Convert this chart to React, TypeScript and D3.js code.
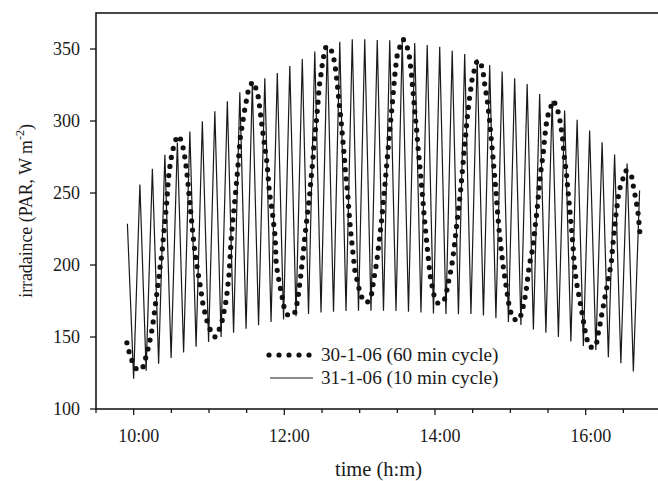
import React from "react";
import * as d3 from "d3";

// ---- data (time in minutes after 10:00, irradiance in W m-2) ----
// 31-1-06, 10 min cycle: successive peak and trough values
const cycle10Start = -5; // first peak (9:55)
const cycle10Period = 9.95; // minutes
const peaks10 = [
  228.7, 255.9, 266.8, 276.5, 285, 292.7, 299.8, 306.8, 313.7, 320, 325.5, 329.7, 333.4, 338.2,
  343, 348.3, 352.3, 355, 356.8, 356.8, 356.3, 356, 355.5, 354.2, 352.8, 351.6, 348.8, 346.5,
  343, 338.9, 334.3, 329.6, 325.7, 318.8, 314, 307.2, 300.8, 293.4, 285.3, 276.7, 270.5, 251.8,
];
const troughs10 = [
  121, 126.5, 131.5, 135.5, 139.3, 143.2, 146.6, 150, 153, 155.8, 158.2, 160.4, 162.2, 164.5,
  166, 167, 167.5, 168, 168.2, 168.3, 168.2, 168, 167.5, 167, 166.3, 166, 165.8, 166,
  165, 163, 160.5, 158.3, 155.3, 153, 150, 146.8, 143.8, 141, 136, 131.7, 126,
];

// 30-1-06, 60 min cycle: [minute, irradiance]
const series60: [number, number][] = [
  [-5.4, 146], [-3.6, 139.5], [-1.3, 133.5], [1, 129], [3, 127], [6, 127.5], [8, 130], [10, 137],
  [12, 143.5], [13.5, 150], [15, 157], [16, 163.5], [17, 170], [17.8, 176], [18.8, 182.5], [19.8, 189],
  [20.5, 195], [21.5, 201.5], [22.5, 208], [23.3, 215], [23.8, 221], [24.6, 227], [25.3, 233], [25.8, 239],
  [26.5, 245], [27, 252], [27.6, 259], [28.3, 265], [29.4, 271.5], [30.6, 278], [32.4, 284], [34.1, 288.5],
  [35.6, 290], [37.1, 288], [38.8, 284], [40.1, 278], [41.4, 271.5], [42.2, 265], [43, 259], [43.8, 252],
  [44.5, 245], [45.2, 239], [45.9, 233], [46.6, 226.5], [47.3, 220.5], [48.5, 211], [49.9, 202], [51.2, 195],
  [52.5, 188.3], [53.6, 182.5], [54.6, 175.5], [56, 169.7], [57.8, 162.8], [60, 157], [63, 151], [65, 150],
  [67.9, 154.8], [70.3, 160.5], [71.9, 167.4], [73.2, 173.2], [74.3, 180.1], [75.9, 192.9], [76.3, 198.6],
  [77.7, 218.3], [79, 231], [81.1, 249.5], [83, 268], [84.8, 287.6], [88.3, 307.2], [91, 320], [94.4, 327.3],
  [98.4, 321.1], [99.7, 314.2], [101.5, 301.5], [103.4, 288.7], [106.3, 270.3], [108.1, 250.6], [110.3, 237.9],
  [112.7, 219.4], [113.5, 200.5], [114.8, 194], [116.1, 187.1], [118.8, 175.5], [120.1, 169], [122.8, 165.1],
  [126.8, 165.1], [129, 168], [131, 178], [133, 192], [135, 208], [136.5, 221], [138.3, 234.5], [140, 247.2],
  [141.3, 259.9], [142.7, 272.6], [143.7, 285.3], [145.3, 298], [146.6, 310.7], [147.7, 323.4], [149.8, 336.1],
  [150.6, 342.3], [153, 351.2], [156.4, 351.6], [159, 345.3], [160.4, 338.4], [162.2, 325.7], [163.6, 313],
  [165.2, 300.3], [166.5, 287.6], [167.8, 274.9], [168.9, 262.2], [170.5, 249.5], [171.5, 236.8], [173, 222],
  [174.7, 208], [176.3, 195.2], [178.9, 186], [180.3, 180.2], [182.9, 175.5], [185.6, 173.8], [187.7, 175.5],
  [189.6, 180.2], [191.6, 191.8], [193.6, 202.1], [195.5, 216], [197.5, 231], [198.8, 243.7], [200.2, 256.4],
  [201.5, 269.1], [202.8, 281.8], [204.1, 294.5], [205.5, 307.2], [206.8, 320], [208.1, 332.7], [209.5, 344.2],
  [211.3, 350], [214.7, 356.8], [217.9, 351.2], [219.5, 345.3], [221.4, 331.5], [222.7, 318.7], [224, 306],
  [225.4, 293.4], [226.6, 280.7], [228, 268], [229.3, 255.3], [230.6, 242.6], [231.2, 235.7], [233.5, 215],
  [235.9, 194], [237.3, 187.1], [238.6, 181.3], [239.9, 176.7], [242.5, 173.2], [245.2, 173.7], [247.9, 176.7],
  [249.2, 181.3], [250.5, 187.1], [251.8, 192.9], [253.2, 198.6], [255, 210], [256.8, 224], [258.5, 237],
  [260.3, 250.6], [261.6, 263.3], [263, 277.2], [264.3, 288.7], [265.6, 301.5], [267.2, 314.2], [268.3, 320.8],
  [269.1, 327], [270.9, 334], [273.1, 340.8], [275.7, 342], [278.3, 335], [278.9, 329.2], [280.2, 322.2],
  [281.5, 315.3], [283.1, 303.8], [284.4, 291.1], [285.8, 278.4], [287.1, 265.6], [288.4, 252.9], [289.5, 240.2],
  [290.8, 226.4], [292.2, 214.8], [294.2, 199.8], [296.1, 188.3], [297.4, 181.3], [298.2, 175.5], [299.6, 169.7],
  [301.4, 163.5], [303.5, 162.1], [306.9, 161.7], [308.9, 166.3], [310.9, 173.7], [312.3, 180.2], [314.1, 192.9],
  [314.9, 198.6], [316.5, 206], [318.1, 212.5], [319.4, 224], [321.3, 237.9], [322.6, 250.6], [324, 263.3],
  [326, 276], [327.4, 288.7], [328.2, 295], [329.2, 301.5], [331.4, 308.4], [334.5, 314.2], [337.5, 308.4],
  [339.3, 301.5], [341.5, 289.2], [342.7, 277.2], [344.6, 264.5], [345.9, 251.8], [347.3, 239], [348.6, 226.3],
  [349.9, 213.7], [350.8, 201], [352.6, 188.3], [355.2, 176], [357.9, 162.8], [359.2, 155.9], [360.5, 150.1],
  [362.6, 143.7], [365.5, 142.5], [368.5, 144.4], [369.7, 151.3], [371.1, 157], [372.4, 163.9], [373.7, 169.7],
  [375.1, 176.7], [376.4, 182.5], [377.7, 188.3], [379.1, 195.2], [380.4, 201], [381.7, 214.8], [382.5, 220.6],
  [383.9, 233.3], [385.7, 246], [387.1, 252.9], [389.2, 258.7], [391.8, 265.6], [396.3, 263.3], [397.6, 256.4],
  [398.9, 250.6], [400.3, 243.7], [401.5, 238], [402.3, 231], [402.9, 225.2], [403.5, 219],
];

const yTicks = [100, 150, 200, 250, 300, 350];
const xMajorTicks = [0, 120, 240, 360];
const xMajorLabels = ["10:00", "12:00", "14:00", "16:00"];
const xMinorTicks = [-30, 30, 60, 90, 150, 180, 210, 270, 300, 330, 390, 420];
const legendLabels = ["30-1-06 (60 min cycle)", "31-1-06 (10 min cycle)"];

const W = 658;
const H = 481;
const M = { left: 96, right: 661, top: 13, bottom: 409 };
const FONT = "'Liberation Serif', 'DejaVu Serif', serif";
const INK = "#1a1a1a";

export default function App() {
  const x = d3.scaleLinear().domain([-30, 420]).range([M.left, M.right]);
  const y = d3.scaleLinear().domain([100, 375]).range([M.bottom, M.top]);

  const line10Data: [number, number][] = [];
  peaks10.forEach((p, i) => {
    const t = cycle10Start + i * cycle10Period;
    line10Data.push([t, p]);
    if (i < troughs10.length) line10Data.push([t + cycle10Period / 2, troughs10[i]]);
  });

  const lineGen = d3
    .line<[number, number]>()
    .x((d) => x(d[0]))
    .y((d) => y(d[1]));

  const dotStyle = {
    stroke: "#111",
    strokeWidth: 5.2,
    strokeLinecap: "round" as const,
    strokeDasharray: "0 9.2",
    fill: "none",
  };

  return (
    <svg
      width={W}
      height={H}
      style={{ position: "absolute", left: 0, top: 0, background: "#fff" }}
      fontFamily={FONT}
    >
      <rect x={0} y={0} width={W} height={H} fill="#fff" />
      {/* data */}
      <path d={lineGen(line10Data) || ""} fill="none" stroke={INK} strokeWidth={1.2} strokeLinejoin="miter" />
      <path d={lineGen(series60) || ""} {...dotStyle} />

      {/* frame */}
      <rect
        x={M.left}
        y={M.top}
        width={M.right - M.left}
        height={M.bottom - M.top}
        fill="none"
        stroke={INK}
        strokeWidth={1.6}
      />

      {/* y axis */}
      {yTicks.map((v) => (
        <g key={v}>
          <line x1={M.left - 6} x2={M.left} y1={y(v)} y2={y(v)} stroke={INK} strokeWidth={1.3} />
          <text x={80} y={y(v)} dy="0.35em" textAnchor="end" fontSize={18} fill={INK}>
            {v}
          </text>
        </g>
      ))}

      {/* x axis */}
      {xMinorTicks.map((t) => (
        <line key={t} x1={x(t)} x2={x(t)} y1={M.bottom} y2={M.bottom + 4} stroke={INK} strokeWidth={1.3} />
      ))}
      {xMajorTicks.map((t, i) => (
        <g key={t}>
          <line x1={x(t)} x2={x(t)} y1={M.bottom} y2={M.bottom + 6} stroke={INK} strokeWidth={1.3} />
          <text x={x(t) + 5} y={441.5} textAnchor="middle" fontSize={18} fill={INK}>
            {xMajorLabels[i]}
          </text>
        </g>
      ))}

      {/* axis titles */}
      <text x={(M.left + M.right) / 2} y={476} textAnchor="middle" fontSize={20.5} fill={INK}>
        time (h:m)
      </text>
      <text
        transform={`translate(32, ${(M.top + M.bottom) / 2}) rotate(-90)`}
        textAnchor="middle"
        fontSize={17.8}
        fill={INK}
      >
        irradaince (PAR, W m
        <tspan dy={-8} fontSize={12}>
          -2
        </tspan>
        <tspan dy={8}>)</tspan>
      </text>

      {/* legend */}
      <path d={`M269,355 L311,355`} {...dotStyle} strokeDasharray="0 10" />
      <text x={321} y={361} fontSize={19.2} fill={INK}>
        {legendLabels[0]}
      </text>
      <line x1={270} x2={313} y1={378} y2={378} stroke={INK} strokeWidth={1.1} />
      <text x={321} y={384} fontSize={19.2} fill={INK}>
        {legendLabels[1]}
      </text>
    </svg>
  );
}
